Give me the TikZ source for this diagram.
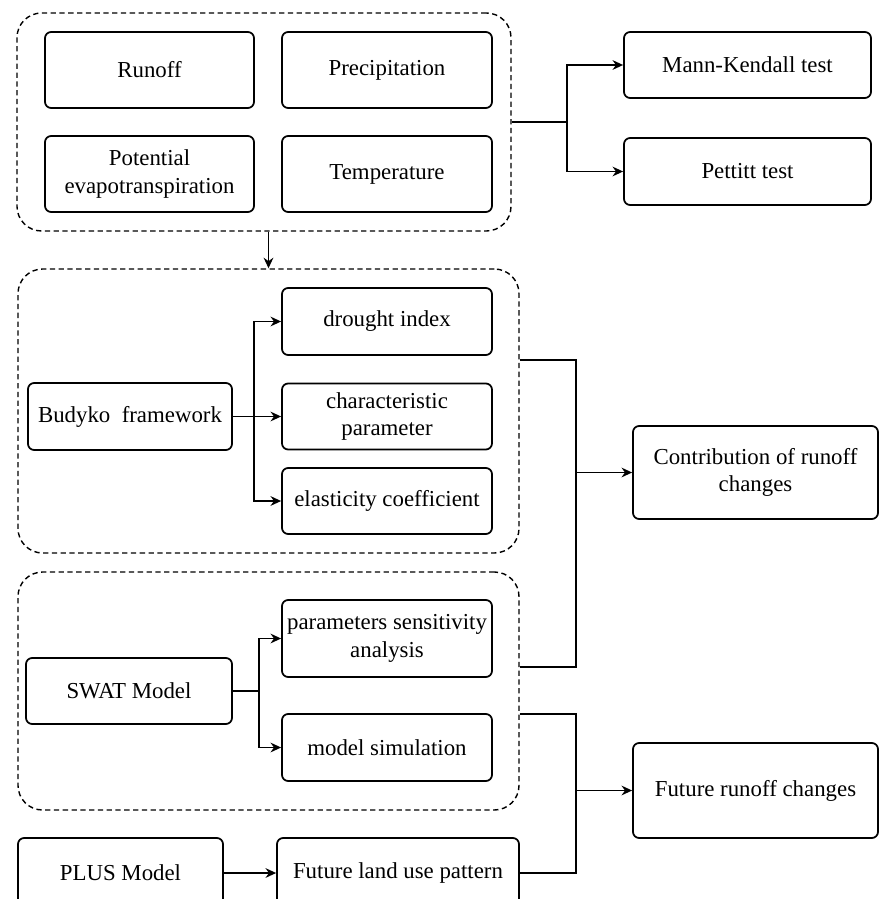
\documentclass[tikz,border=0pt]{standalone}
\usepackage{fontspec}
\setmainfont{Liberation Serif}
\usetikzlibrary{arrows.meta}
\begin{document}
\begin{tikzpicture}[x=0.02cm, y=-0.02cm,
    sz/.style 2 args={minimum width=#1*0.02cm, minimum height=#2*0.02cm},
    box/.style={draw, line width=1pt, rounded corners=3.5pt, align=center, inner sep=0pt, font=\fontsize{13}{15.5}\selectfont},
    group/.style={draw, line width=0.8pt, dash pattern=on 3pt off 2pt, rounded corners=14pt},
    conn/.style={line width=1.1pt},
    arr/.style={conn, -{Stealth[length=6pt, width=5.5pt]}}]
    \useasboundingbox (0,0) rectangle (880,899);
    \clip (0,0) rectangle (880,899);
    \node[group, sz={494}{218}] (grp1) at (264,122) {};
    \node[box, sz={209}{76}] (runoff) at (149.5,70) {Runoff};
    \node[box, sz={210}{76}] (precip) at (387,70) {Precipitation};
    \node[box, sz={209}{76}] (pet) at (149.5,174) {Potential\\evapotranspiration};
    \node[box, sz={210}{76}] (temp) at (387,174) {Temperature};
    \node[box, sz={247}{66}] (mk) at (747.5,65) {Mann-Kendall test};
    \node[box, sz={247}{67}] (pettitt) at (747.5,171.5) {Pettitt test};
    \coordinate (s1) at (567,122);
    \draw[conn] (grp1.east) -- (s1);
    \draw[arr] (s1) |- (mk.west);
    \draw[arr] (s1) |- (pettitt.west);
    \node[group, sz={501}{284}] (grp2) at (268.5,411) {};
    \draw[arr] (grp2.north |- grp1.south) -- (grp2.north);
    \node[box, sz={204}{67}] (budyko) at (130,416.5) {Budyko\ \ framework};
    \node[box, sz={210}{67}] (drought) at (387,321.5) {drought index};
    \node[box, sz={210}{66}] (charp) at (387,416.5) {characteristic\\parameter};
    \node[box, sz={210}{66}] (elast) at (387,501) {elasticity coefficient};
    \coordinate (s2) at (254,416.5);
    \draw[conn] (budyko.east) -- (s2);
    \draw[arr] (s2) |- (drought.west);
    \draw[arr] (s2) -- (charp.west);
    \draw[arr] (s2) |- (elast.west);
    \node[group, sz={501}{238}] (grp3) at (268.5,691) {};
    \node[box, sz={206}{66}] (swat) at (129,691) {SWAT Model};
    \node[box, sz={210}{77}] (psa) at (387,638.5) {parameters sensitivity\\analysis};
    \node[box, sz={210}{67}] (msim) at (387,747.5) {model simulation};
    \coordinate (s3) at (259,691);
    \draw[conn] (swat.east) -- (s3);
    \draw[arr] (s3) |- (psa.west);
    \draw[arr] (s3) |- (msim.west);
    \node[box, sz={245}{93}] (contrib) at (755.5,472.5) {Contribution of runoff\\changes};
    \coordinate (j1) at (576,472.5);
    \draw[conn] (grp2.east |- 0,360) -| (j1);
    \draw[conn] (grp3.east |- 0,667) -| (j1);
    \draw[arr] (j1) -- (contrib.west);
    \node[box, sz={205}{70}] (plus) at (120.5,873) {PLUS Model};
    \node[box, sz={242}{70}] (flup) at (398,873) {Future land use pattern};
    \draw[arr] (plus.east) -- (flup.west);
    \node[box, sz={245}{95}] (futr) at (755.5,790.5) {Future runoff changes};
    \coordinate (j2) at (576,790.5);
    \draw[conn] (grp3.east |- 0,714) -| (j2);
    \draw[conn] (flup.east) -| (j2);
    \draw[arr] (j2) -- (futr.west);
\end{tikzpicture}
\end{document}
